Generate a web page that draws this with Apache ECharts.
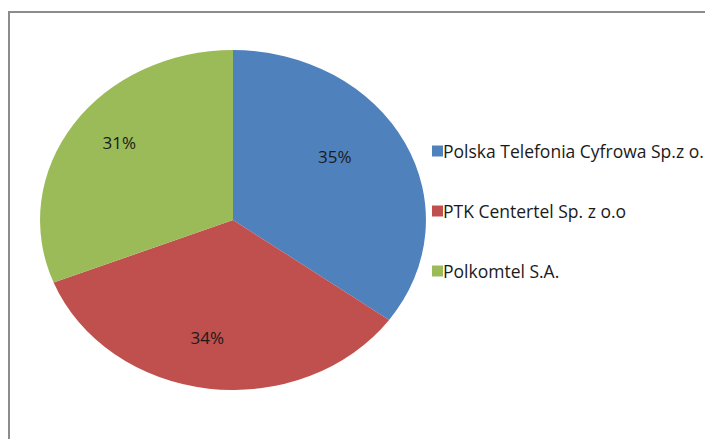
<!DOCTYPE html>
<html>
<head>
<meta charset="utf-8">
<script src="https://cdn.jsdelivr.net/npm/echarts@6/dist/echarts.min.js"></script>
<style>
  html, body { margin: 0; padding: 0; background: #fff; }
  #wrap { position: relative; width: 705px; height: 439px; overflow: hidden; }
  #frame {
    position: absolute; left: 8px; top: 11px; width: 720px; height: 460px;
    border: 2px solid #8c8c8c; box-sizing: border-box;
  }
  .chart { position: absolute; left: 0; top: 0; width: 705px; height: 439px; }
  /* Excel draws the pie as an ellipse: stretch the pie layer horizontally */
  #pie { transform: scaleX(1.135); transform-origin: 233px 220px; }
</style>
</head>
<body>
<div id="wrap">
  <div id="frame"></div>
  <div id="pie" class="chart"></div>
  <div id="overlay" class="chart"></div>
</div>
<script>
// 运营商市场份额
const operators = ['Polska Telefonia Cyfrowa Sp.z o.', 'PTK Centertel Sp. z o.o', 'Polkomtel S.A.'];
const shares = [35, 34, 31];
const colors = ['#4f81bd', '#c0504d', '#9bbb59'];

const pieData = operators.map((name, i) => ({ name, value: shares[i] }));

// 饼图本体（水平拉伸成椭圆）
const pieChart = echarts.init(document.getElementById('pie'), null, { renderer: 'svg' });
pieChart.setOption({
  animation: false,
  color: colors,
  series: [
    {
      type: 'pie',
      center: [233, 220],
      radius: 170,
      startAngle: 90,
      clockwise: true,
      silent: true,
      label: { show: false },
      labelLine: { show: false },
      itemStyle: { borderWidth: 0 },
      data: pieData,
    },
  ],
});

// 百分比标签和图例（不拉伸）
const overlay = echarts.init(document.getElementById('overlay'), null, { renderer: 'svg' });
overlay.setOption({
  animation: false,
  color: colors,
  legend: {
    orient: 'vertical',
    left: 427,
    top: 137,
    itemWidth: 11,
    itemHeight: 11,
    itemGap: 42,
    icon: 'rect',
    selectedMode: false,
    textStyle: {
      fontFamily: 'Open Sans',
      fontSize: 17.5,
      lineHeight: 17,
      color: '#1a1a1a',
      padding: [0, 0, 0, -5],
    },
    data: operators.map((name, i) => ({
      name,
      itemStyle: { color: colors[i], opacity: 1 },
    })),
  },
  series: [
    {
      type: 'pie',
      center: [223, 213],
      radius: 245,
      startAngle: 90,
      clockwise: true,
      silent: true,
      itemStyle: { color: 'rgba(0,0,0,0)' },
      label: {
        show: true,
        position: 'inside',
        formatter: '{d}%',
        fontFamily: 'Open Sans',
        fontSize: 17,
        color: '#1a1a1a',
      },
      labelLine: { show: false },
      data: pieData,
    },
  ],
});
</script>
</body>
</html>
